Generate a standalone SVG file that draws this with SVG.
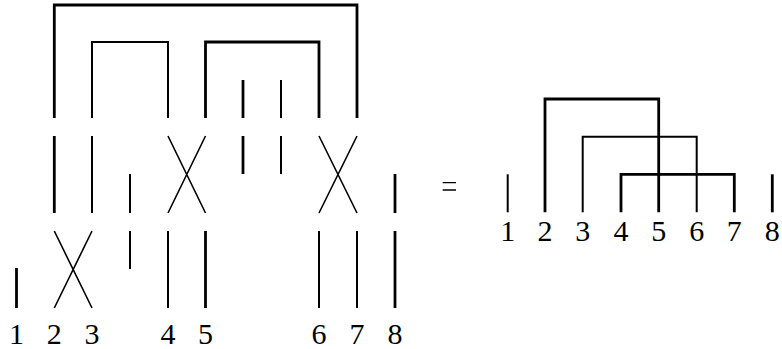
<svg xmlns="http://www.w3.org/2000/svg" width="782" height="349" viewBox="0 0 782 349">
<style>
.k{fill:none;stroke:#000;stroke-width:2.8;stroke-linecap:butt;stroke-linejoin:miter}
.t{fill:none;stroke:#000;stroke-width:2;stroke-linecap:butt;stroke-linejoin:miter}
.x{fill:none;stroke:#000;stroke-width:1.6}
.l{font-family:"Liberation Serif","Times New Roman",serif;font-size:30px;fill:#000;text-anchor:middle}
</style>
<rect width="782" height="349" fill="#fff"/>
<g id="connectors">
<path class="k" d="M54.3 118V5H357V118"/>
<path class="t" d="M92 118V42H168V118"/>
<path class="k" d="M205.5 118V42H319V118"/>
<path class="k" d="M243 80V118"/>
<path class="t" d="M281 80V118"/>
<path class="k" d="M54.3 136V213"/>
<path class="t" d="M92 136V213"/>
<path class="t" d="M130 174V213"/>
<path class="x" d="M168 136L205.5 213M205.5 136L168 213"/>
<path class="k" d="M243 136V174"/>
<path class="t" d="M281 136V174"/>
<path class="x" d="M319 136L357 213M357 136L319 213"/>
<path class="k" d="M395 174V213"/>
<path class="k" d="M16.5 268V308"/>
<path class="x" d="M54.3 231L92 308M92 231L54.3 308"/>
<path class="t" d="M130 231V269"/>
<path class="t" d="M168 231V308"/>
<path class="k" d="M205.5 231V308"/>
<path class="t" d="M319 231V308"/>
<path class="t" d="M357 231V308"/>
<path class="k" d="M395 231V308"/>
<path class="t" d="M507.7 174.3V212.3"/>
<path class="k" d="M545 212.3V99H658.7V212.3"/>
<path class="t" d="M582.7 212.3V136.7H696.7V212.3"/>
<path class="k" d="M621 212.3V174.3H734.3V212.3"/>
<path class="k" d="M772.3 174.3V212.3"/>
<path class="t" d="M442.7 182.7H456M442.7 190H456" style="stroke-width:1.3"/>
</g>
<g id="labels-left">
<text class="l" x="16.5" y="344">1</text>
<text class="l" x="54.3" y="344">2</text>
<text class="l" x="92" y="344">3</text>
<text class="l" x="168" y="344">4</text>
<text class="l" x="205.5" y="344">5</text>
<text class="l" x="319" y="344">6</text>
<text class="l" x="357" y="344">7</text>
<text class="l" x="395" y="344">8</text>
</g>
<g id="labels-right">
<text class="l" x="507.7" y="241">1</text>
<text class="l" x="545" y="241">2</text>
<text class="l" x="582.7" y="241">3</text>
<text class="l" x="621" y="241">4</text>
<text class="l" x="658.7" y="241">5</text>
<text class="l" x="696.7" y="241">6</text>
<text class="l" x="734.3" y="241">7</text>
<text class="l" x="772.3" y="241">8</text>
</g>
</svg>
